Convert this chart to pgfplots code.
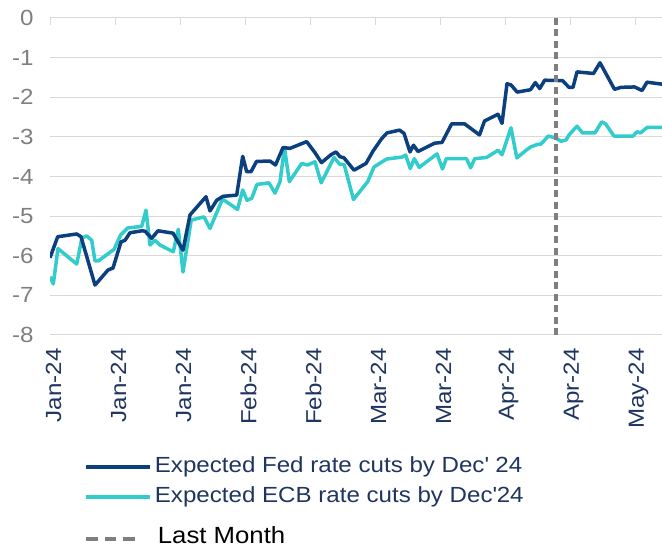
\documentclass[border=0pt]{standalone}
\usepackage{fontspec}
\setmainfont{Liberation Sans}[FakeStretch=1.1]
\usepackage{pgfplots}
\pgfplotsset{compat=1.18}
\definecolor{fed}{HTML}{0B3F7E}
\definecolor{ecb}{HTML}{33CCCC}
\definecolor{navy}{HTML}{1F3560}
\definecolor{gridc}{HTML}{D9D9D9}
\definecolor{dashc}{HTML}{7F7F7F}
\definecolor{ytxt}{HTML}{7F7F7F}

\pgfplotstableread{
x y
0 -6.05
7.7 -5.52
26.7 -5.45
31 -5.52
45 -6.74
58 -6.36
63 -6.31
71 -5.65
75 -5.61
80 -5.42
92 -5.37
95 -5.38
101.7 -5.56
108 -5.37
123 -5.43
133 -5.86
140 -4.97
156 -4.51
160 -4.87
166.7 -4.6
173 -4.5
186.7 -4.47
192.7 -3.49
196.7 -3.88
201 -3.88
206.5 -3.62
220 -3.61
225.5 -3.71
233 -3.27
240 -3.29
256.7 -3.12
265 -3.40
271.5 -3.65
281 -3.45
286 -3.38
290 -3.5
294 -3.53
304 -3.84
316 -3.67
323 -3.36
331.5 -3.05
337 -2.9
349.5 -2.83
354 -2.91
360 -3.38
363.5 -3.21
368 -3.37
384.5 -3.16
392 -3.14
401.7 -2.67
414.5 -2.67
429.5 -2.95
434.5 -2.6
448 -2.43
452 -2.66
457 -1.66
461 -1.69
467.2 -1.87
480.5 -1.81
485.3 -1.63
489.7 -1.78
494.7 -1.57
512.5 -1.58
519 -1.75
523 -1.75
527 -1.36
543.5 -1.4
550 -1.13
564.5 -1.8
571 -1.75
584.5 -1.74
592 -1.83
597 -1.62
612 -1.67
}\fedtable

\pgfplotstableread{
x y
0 -6.53
3.3 -6.71
8 -5.82
26.7 -6.21
32 -5.55
36.7 -5.5
41.7 -5.61
45 -6.13
48.3 -6.13
64 -5.84
70.5 -5.48
77.5 -5.3
91.7 -5.26
96 -4.85
100 -5.73
105 -5.61
110 -5.73
123.3 -5.9
128.3 -5.33
133 -6.41
141.2 -5.1
154 -5.02
160 -5.31
172.5 -4.57
187.5 -4.83
192.7 -4.34
197 -4.6
201.7 -4.55
207 -4.2
219 -4.16
225 -4.42
230 -4.13
234.5 -3.27
239.3 -4.13
251.7 -3.67
257.5 -3.71
265 -3.63
271.2 -4.16
284 -3.52
289.7 -3.69
294.2 -3.70
303.5 -4.58
317.7 -4.13
324 -3.76
336.5 -3.56
352 -3.51
355.7 -3.46
360.2 -3.8
364.3 -3.55
369.2 -3.77
387 -3.43
392.5 -3.81
396.3 -3.55
416.5 -3.55
420.7 -3.78
424.7 -3.55
436.5 -3.52
448 -3.34
452 -3.45
461 -2.77
466.8 -3.53
477 -3.32
481 -3.25
487.5 -3.19
491 -3.18
498.3 -2.98
505 -3.02
511 -3.11
516 -3.08
519 -2.95
527 -2.73
532.5 -2.9
545 -2.9
551.7 -2.62
555.5 -2.67
564 -2.98
583 -2.98
587 -2.87
590.5 -2.9
597.2 -2.76
612 -2.76
}\ecbtable

\begin{document}
\begin{tikzpicture}
\useasboundingbox (0,0) rectangle (662bp,551bp);
\begin{axis}[
  at={(50bp,216bp)}, anchor=south west,
  scale only axis, width=612bp, height=317bp,
  xmin=0, xmax=612, ymin=-8, ymax=0,
  axis line style={draw=none},
  ytick={-8,-7,-6,-5,-4,-3,-2,-1,0},
  yticklabels={-8,-7,-6,-5,-4,-3,-2,-1,0},
  ymajorgrids, grid style={gridc, line width=1bp},
  ytick style={draw=none},
  yticklabel style={font=\fontsize{22}{22}\selectfont, text=ytxt, xshift=-13bp},
  xtick={0,65,130,195,260,325,390,455,520,585},
  xticklabels={Jan-24,Jan-24,Jan-24,Feb-24,Feb-24,Mar-24,Mar-24,Apr-24,Apr-24,May-24},
  xtick pos=right, xticklabel pos=left,
  xtick align=inside, major tick length=7bp,
  xtick style={gridc, line width=1bp},
  xticklabel style={xshift=3.5bp, yshift=-10bp, rotate=90, anchor=east,
    font=\fontsize{22}{22}\selectfont, text=navy},
  legend cell align=left,
  legend image code/.code={\draw[#1] (0bp,0bp) -- (64bp,0bp);},
  legend style={at={(0.0555,-0.382)}, anchor=north west, draw=none, fill=none,
    inner sep=0pt, row sep=9bp, column sep=3bp,
    font=\fontsize{22}{22}\selectfont, text=navy,
    nodes={inner sep=0pt, text height=16bp, text depth=5bp}},
  line join=round,
]
\addplot[ecb, line width=3.5bp, forget plot] table[x=x,y=y] {\ecbtable};
\addplot[fed, line width=3.5bp, forget plot] table[x=x,y=y] {\fedtable};
\addplot[dashc, line width=3.5bp, dash pattern=on 7bp off 4.5bp, forget plot] coordinates {(506,0) (506,-8)};
\addlegendimage{fed, line width=3.5bp}
\addlegendentry{Expected Fed rate cuts by Dec\textquotesingle\ 24}
\addlegendimage{ecb, line width=3.5bp}
\addlegendentry{Expected ECB rate cuts by Dec\textquotesingle 24}
\addlegendimage{legend image code/.code={\draw[dashc, line width=4bp, dash pattern=on 11.5bp off 7bp] (0bp,-12bp) -- (49bp,-12bp); \path (64bp,0bp);}}
\addlegendentry{\hspace*{3bp}\raisebox{-11bp}{\color{black}\fontsize{23.5}{23.5}\selectfont Last Month}}
\end{axis}
\end{tikzpicture}
\end{document}
